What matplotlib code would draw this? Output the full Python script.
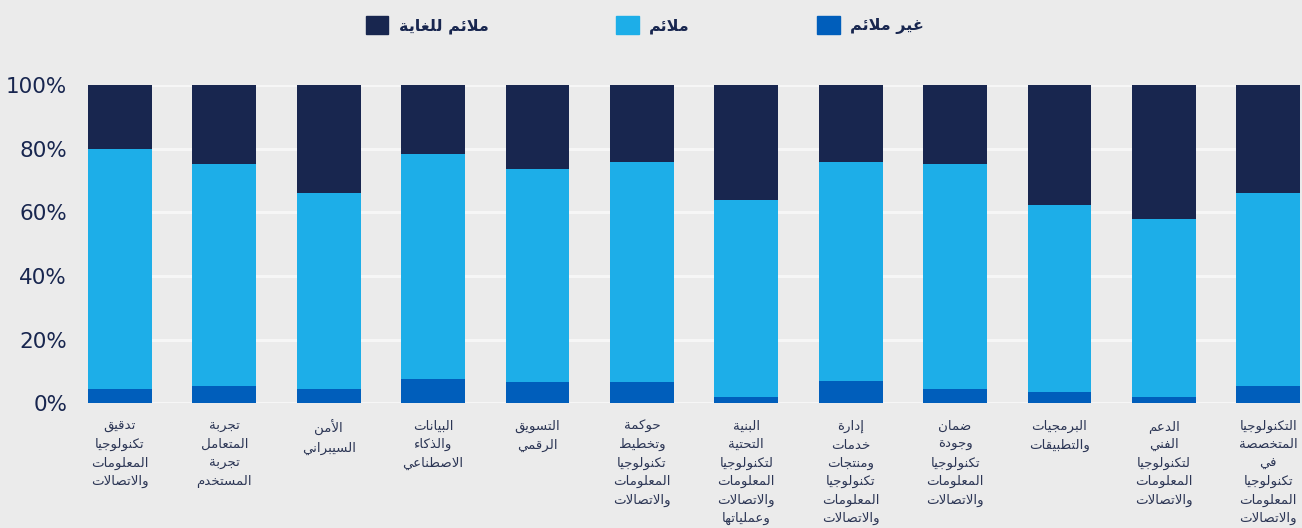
import matplotlib
matplotlib.use("Agg")
import matplotlib.pyplot as plt
from matplotlib.patches import Patch
import numpy as np


# categories, left to right as drawn (one line per list entry)
categories = [
  ["تدقيق", "تكنولوجيا", "المعلومات", "والاتصالات"],
  ["تجربة", "المتعامل", "تجربة", "المستخدم"],
  ["الأمن", "السيبراني"],
  ["البيانات", "والذكاء", "الاصطناعي"],
  ["التسويق", "الرقمي"],
  ["حوكمة", "وتخطيط", "تكنولوجيا", "المعلومات", "والاتصالات"],
  ["البنية", "التحتية", "لتكنولوجيا", "المعلومات", "والاتصالات", "وعملياتها"],
  ["إدارة", "خدمات", "ومنتجات", "تكنولوجيا", "المعلومات", "والاتصالات"],
  ["ضمان", "وجودة", "تكنولوجيا", "المعلومات", "والاتصالات"],
  ["البرمجيات", "والتطبيقات"],
  ["الدعم", "الفني", "لتكنولوجيا", "المعلومات", "والاتصالات"],
  ["التكنولوجيا", "المتخصصة", "في", "تكنولوجيا", "المعلومات", "والاتصالات"],
]

series_names = ["غير ملائم", "ملائم", "ملائم للغاية"]

# percentages per bar
not_suitable = [4.5, 5.4, 4.5, 7.7, 6.7, 6.7, 2.0, 7.0, 4.5, 3.6, 2.0, 5.5]
suitable = [75.4, 69.8, 61.5, 70.6, 66.9, 69.1, 61.8, 68.8, 70.7, 58.6, 55.8, 60.5]
very_suitable = [20.1, 24.8, 34.0, 21.7, 26.4, 24.2, 36.2, 24.2, 24.8, 37.8, 42.2, 34.0]

y_ticks = [0, 20, 40, 60, 80, 100]

_BG = "#EBEBEB"
_NAVY = "#18264F"
_LIGHT = "#1DAEE8"
_BLUE = "#005EBB"
_TEXT = "#2C3655"


# matplotlib has no arabic shaping, so pick presentation forms by hand
_ARABIC_ORDER = "ءآأؤإئابةتثجحخدذرزسشصضطظعغفقكلمنهوىي"
_RIGHT_ONLY = set("آأؤإادذرزوىة")
_LAM_ALEF = {"آ": 0xFEF5, "أ": 0xFEF7, "إ": 0xFEF9, "ا": 0xFEFB}


def _build_forms():
  table = {}
  code = 0xFE80
  for ch in _ARABIC_ORDER:
    n = 1 if ch == "ء" else (2 if ch in _RIGHT_ONLY else 4)
    table[ch] = (code, n)
    code += n
  return table


_FORMS = _build_forms()


def _is_dual(c):
  return isinstance(c, str) and c in _FORMS and _FORMS[c][1] == 4


def _joins(c):
  if isinstance(c, tuple):
    return True
  return c in _FORMS and _FORMS[c][1] >= 2


def shape(line: str) -> str:
  chars = []
  i = 0
  while i < len(line):
    if line[i] == "ل" and i + 1 < len(line) and line[i + 1] in _LAM_ALEF:
      chars.append(("LA", line[i + 1]))
      i += 2
    else:
      chars.append(line[i])
      i += 1

  out = []
  for k, c in enumerate(chars):
    prev = chars[k - 1] if k > 0 else None
    nxt = chars[k + 1] if k + 1 < len(chars) else None
    jp = prev is not None and _is_dual(prev) and _joins(c)
    jn = nxt is not None and _is_dual(c) and _joins(nxt)
    if isinstance(c, tuple):
      out.append(chr(_LAM_ALEF[c[1]] + (1 if jp else 0)))
    elif c in _FORMS:
      base, n = _FORMS[c]
      if n == 4:
        off = {(False, False): 0, (True, False): 1, (False, True): 2, (True, True): 3}[(jp, jn)]
      elif n == 2:
        off = 1 if jp else 0
      else:
        off = 0
      out.append(chr(base + off))
    else:
      out.append(c)
  return "".join(reversed(out))


def main() -> None:
  plt.rcParams['font.family'] = ['DejaVu Sans']

  fig = plt.figure(figsize=(13.02, 5.28), dpi=100, facecolor=_BG)
  ax = fig.add_axes([0.0676, 0.2362, 0.931, 0.603])
  ax.set_facecolor(_BG)

  x = np.arange(len(categories))
  w = 0.61
  ax.bar(x, not_suitable, w, color=_BLUE, zorder=3)
  bottom2 = np.array(not_suitable)
  ax.bar(x, suitable, w, bottom=bottom2, color=_LIGHT, zorder=3)
  bottom3 = bottom2 + np.array(suitable)
  ax.bar(x, very_suitable, w, bottom=bottom3, color=_NAVY, zorder=3)

  ax.set_xlim(-w / 2, len(categories) - 1 + w / 2)
  ax.set_ylim(0, 100)

  for s in ax.spines.values():
    s.set_visible(False)
  ax.yaxis.grid(True, color="#F6F6F6", lw=2.2)
  ax.set_axisbelow(True)

  ax.set_yticks(y_ticks)
  ax.set_yticklabels([f"{v}%" for v in y_ticks], fontsize=15.5, color=_NAVY)
  ax.tick_params(axis="y", length=0, pad=15)

  ax.set_xticks(x)
  ax.set_xticklabels(["\n".join(shape(s) for s in lines) for lines in categories],
                     fontsize=9.6, color=_TEXT, linespacing=1.53)
  ax.tick_params(axis="x", length=0, pad=12)

  # legend: navy, light, blue from left to right
  handles = [Patch(color=_NAVY), Patch(color=_LIGHT), Patch(color=_BLUE)]
  labels = [shape(series_names[2]), shape(series_names[1]), shape(series_names[0])]
  fig.legend(handles, labels, loc="center", bbox_to_anchor=(0.4954, 0.953), ncol=3,
             frameon=False, labelcolor=_NAVY, handlelength=1.4, handleheight=1.4,
             handletextpad=0.65, columnspacing=8.0, prop={'weight': 'bold', 'size': 11.5})

  fig.savefig("out.png", dpi=100, facecolor=_BG)


if __name__ == "__main__":
  main()
